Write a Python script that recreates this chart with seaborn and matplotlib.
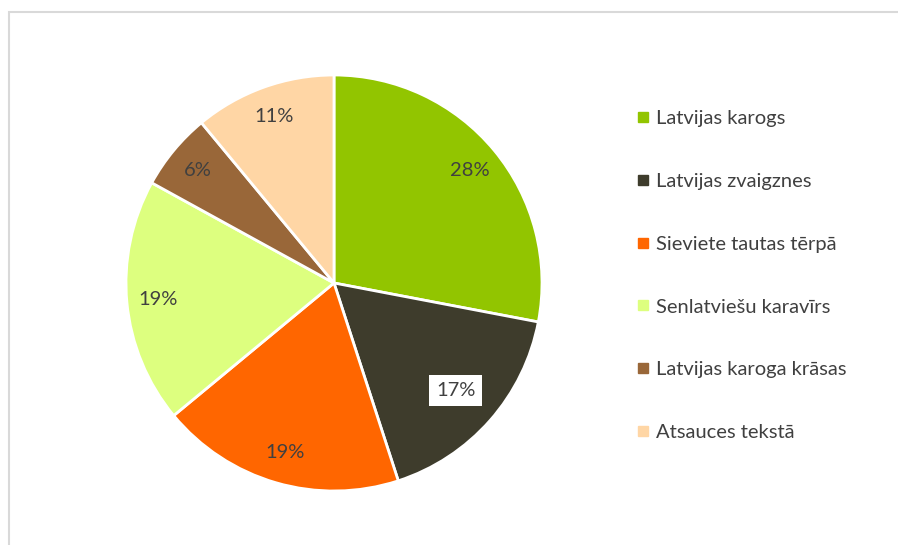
import matplotlib
matplotlib.use("Agg")
import matplotlib.pyplot as plt
import seaborn as sns
from matplotlib.lines import Line2D
from matplotlib.patches import Rectangle

categories = ["Latvijas karogs", "Latvijas zvaigznes", "Sieviete tautas tērpā",
              "Senlatviešu karavīrs", "Latvijas karoga krāsas", "Atsauces tekstā"]
shares = [28, 17, 19, 19, 6, 11]
colors = ["#92C500", "#3E3C2C", "#FF6600", "#DDFF7F", "#996739", "#FFD6A5"]

sns.set_theme(style="white")
plt.rcParams['font.family'] = ['Lato', 'DejaVu Sans']
text_color = "#404040"

fig = plt.figure(figsize=(8.98, 5.45), dpi=100)
W, H = 898, 545

# light grey frame around the chart area
fig.patches.append(Rectangle((8.5 / W, -0.1), 1.2, (545 - 11.5) / H + 0.1,
                             transform=fig.transFigure, fill=False,
                             edgecolor="#D9D9D9", linewidth=1.5))

ax = fig.add_axes([126 / W, 54 / H, 416 / W, 416 / H])
wedges, texts, autotexts = ax.pie(
    shares, colors=colors, startangle=90, counterclock=False,
    autopct="%1.0f%%", pctdistance=0.85,
    wedgeprops=dict(edgecolor="white", linewidth=2),
    textprops=dict(color=text_color, fontsize=14.5))
ax.set_xlim(-1, 1)
ax.set_ylim(-1, 1)

# label on the dark slice sits a bit closer to the centre in a white box
x, y = autotexts[1].get_position()
autotexts[1].set_position((x * 0.78 / 0.85, y * 0.78 / 0.85))
autotexts[1].set_bbox(dict(facecolor="white", edgecolor="none", pad=5))

handles = [Line2D([0], [0], marker="s", linestyle="none", markersize=6.5,
                  markerfacecolor=c, markeredgecolor=c) for c in colors]
fig.legend(handles, categories, loc="upper left",
           bbox_to_anchor=(638 / W, 1 - 110 / H), frameon=False,
           fontsize=14.5, labelcolor=text_color, handlelength=0.5,
           handletextpad=0.4, labelspacing=2.27, borderpad=0,
           borderaxespad=0)

fig.savefig("out.png", dpi=100)
